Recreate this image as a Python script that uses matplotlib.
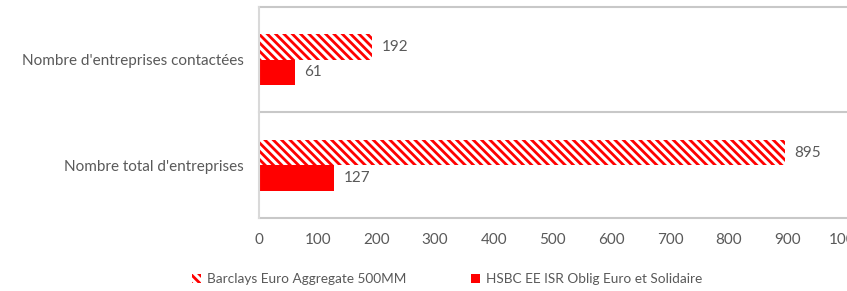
import numpy as np
import matplotlib.pyplot as plt

plt.rcParams['font.family'] = ['Lato', 'DejaVu Sans']
plt.rcParams['hatch.linewidth'] = 2.0

categories = ["Nombre total d'entreprises", "Nombre d'entreprises contactées"]
series_names = ["Barclays Euro Aggregate 500MM", "HSBC EE ISR Oblig Euro et Solidaire"]
barclays = [895, 192]
hsbc = [127, 61]
xticks = list(range(0, 1001, 100))

grey = '#595959'
red = '#FF0000'

fig = plt.figure(figsize=(8.47, 2.91), dpi=100)
ax = fig.add_axes([0.3058, 0.2509, 0.6932, 0.7251])

y = np.arange(len(categories))
h = 0.24
b1 = ax.barh(y + h / 2, barclays, height=h, facecolor='white', edgecolor=red,
             hatch='\\\\\\\\', linewidth=0, label=series_names[0])
b2 = ax.barh(y - h / 2, hsbc, height=h, color=red, label=series_names[1])

for bars, vals in ((b1, barclays), (b2, hsbc)):
    for rect, v in zip(bars, vals):
        ax.annotate(str(v), (v, rect.get_y() + rect.get_height() / 2),
                    xytext=(7, 0), textcoords='offset points', va='center',
                    ha='left', fontsize=11, color=grey)

ax.set_xlim(0, 1000)
ax.set_ylim(-0.5, len(categories) - 0.5)
ax.set_xticks(xticks)
ax.set_yticks(y)
ax.set_yticklabels(categories)
ax.tick_params(axis='both', length=0, labelsize=11, labelcolor=grey)
ax.tick_params(axis='x', pad=11)
ax.tick_params(axis='y', pad=11)

for s in ['top', 'right', 'bottom']:
    ax.spines[s].set_visible(False)
ax.spines['left'].set_color('#d9d9d9')
ax.spines['left'].set_linewidth(1.5)
for yy in np.arange(-0.5, len(categories), 1.0):
    ax.axhline(yy, color='#c8c8c8', linewidth=1.5, zorder=0, clip_on=False)

fig.legend(handles=[b1, b2], loc='center', bbox_to_anchor=(0.528, 0.04),
           ncol=2, frameon=False, fontsize=9.8, labelcolor=grey,
           handlelength=0.6, handleheight=0.6, handletextpad=0.45,
           columnspacing=4.8)

fig.savefig('out.png', dpi=100)
